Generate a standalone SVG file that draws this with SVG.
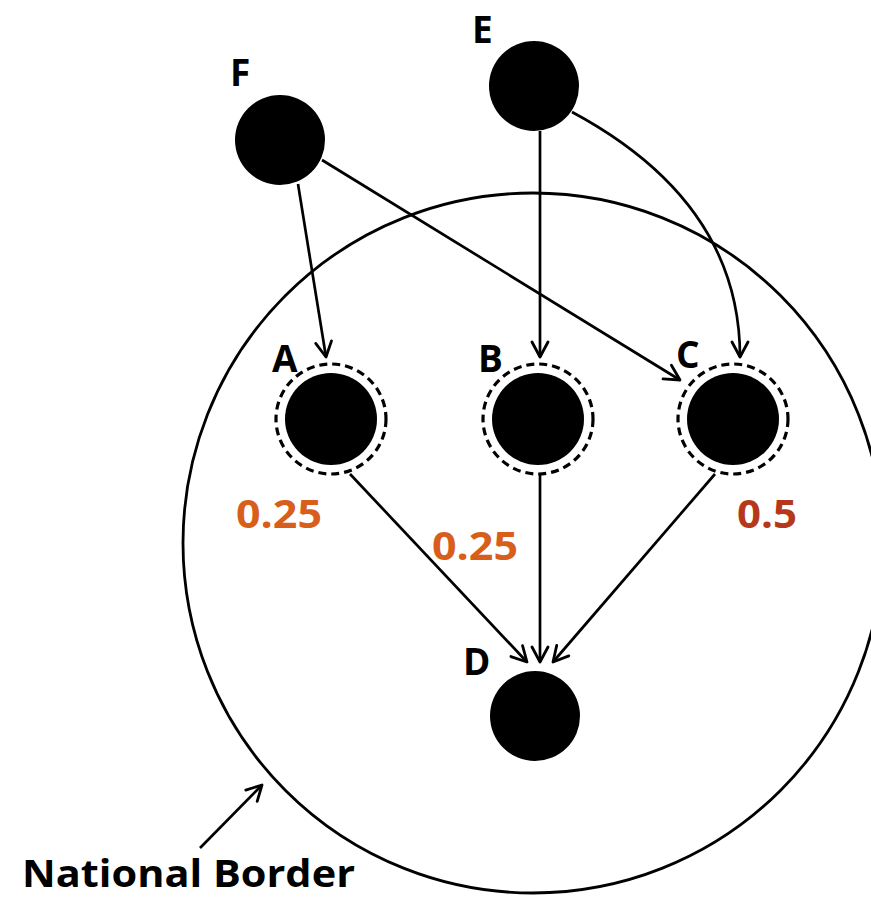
<svg xmlns="http://www.w3.org/2000/svg" width="871" height="899" viewBox="0 0 871 899">
  <defs>
    <marker id="arrow" markerUnits="userSpaceOnUse" markerWidth="20" markerHeight="20" refX="0" refY="0" viewBox="-18 -10 20 20" orient="auto">
      <path d="M-15,-8 L0,0 L-15,8" fill="none" stroke="#000" stroke-width="2.8" stroke-linecap="round" stroke-linejoin="round"/>
    </marker>
    <style>
      .node { fill: #000; }
      .ring { fill: none; stroke: #000; stroke-width: 3.2; stroke-dasharray: 8 5; }
      .label { font-family: "Open Sans", "Liberation Sans", sans-serif; font-weight: bold; font-size: 37px; fill: #000; }
      .edge { fill: none; stroke: #000; stroke-width: 2.7; marker-end: url(#arrow); }
      .weight { font-family: "Open Sans", "Liberation Sans", sans-serif; font-weight: bold; font-size: 40px; }
    </style>
  </defs>

  <rect width="871" height="899" fill="#fff"/>

  <!-- border -->
  <g id="border">
    <circle cx="533" cy="543" r="350" fill="none" stroke="#000" stroke-width="2.8"/>
  </g>

  <!-- connectors -->
  <g id="edges">
    <path class="edge" d="M298,184 L326,357"/>
    <path class="edge" d="M322,160 L680,380"/>
    <path class="edge" d="M540,131 L540,357"/>
    <path class="edge" d="M572,112 C680,170 740,250 740,357"/>
    <path class="edge" d="M350,474 L527,662"/>
    <path class="edge" d="M540,474 L540,662"/>
    <path class="edge" d="M715,474 L553,662"/>
    <path class="edge" d="M200,848 L262,785"/>
  </g>

  <g id="node-F">
    <circle class="node" cx="280" cy="140" r="45"/>
    <text class="label" x="230" y="86">F</text>
  </g>
  <g id="node-E">
    <circle class="node" cx="534" cy="86" r="45"/>
    <text class="label" x="472" y="43">E</text>
  </g>
  <g id="node-A">
    <circle class="node" cx="331" cy="419" r="46"/>
    <circle class="ring" cx="331" cy="419" r="55"/>
    <text class="label" x="272" y="372">A</text>
  </g>
  <g id="node-B">
    <circle class="node" cx="538" cy="419" r="46"/>
    <circle class="ring" cx="538" cy="419" r="55"/>
    <text class="label" x="478" y="372">B</text>
  </g>
  <g id="node-C">
    <circle class="node" cx="733" cy="419" r="46"/>
    <circle class="ring" cx="733" cy="419" r="55"/>
    <text class="label" x="676" y="368">C</text>
  </g>
  <g id="node-D">
    <circle class="node" cx="535" cy="716" r="45"/>
    <text class="label" x="463" y="675">D</text>
  </g>

  <g id="weights">
    <text class="weight" x="236" y="528" fill="#D85E1B" textLength="86" lengthAdjust="spacingAndGlyphs">0.25</text>
    <text class="weight" x="432" y="560" fill="#D85E1B" textLength="86" lengthAdjust="spacingAndGlyphs">0.25</text>
    <text class="weight" x="737" y="528" fill="#B5381A" textLength="60" lengthAdjust="spacingAndGlyphs">0.5</text>
  </g>

  <g id="caption">
    <text class="label" x="22" y="887" font-size="36" textLength="333" lengthAdjust="spacingAndGlyphs">National Border</text>
  </g>
</svg>
